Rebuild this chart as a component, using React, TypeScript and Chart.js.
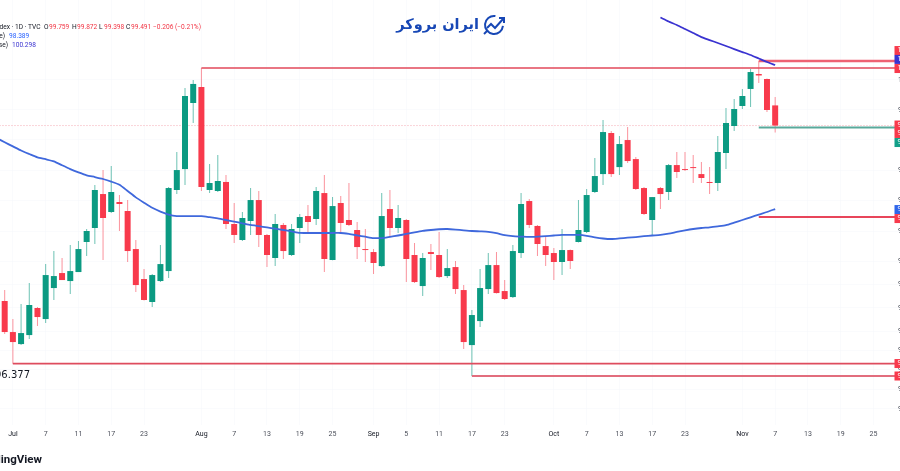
import { useEffect, useRef } from "react"
import { Chart, registerables } from "chart.js"

// Register Chart.js components
Chart.register(...registerables)

const opens = [
  97.189, 96.787, 96.632, 96.748, 97.098, 96.955, 97.357, 97.552, 97.448, 97.565,
  97.957, 98.14, 98.586, 98.35, 98.481, 98.363, 97.865, 97.474, 97.176, 97.448,
  97.578, 98.639, 98.915, 99.791, 100.004, 98.639, 98.626, 98.745, 98.193, 97.983,
  98.232, 98.507, 98.049, 97.748, 98.18, 97.787, 98.14, 98.297, 98.258, 98.599,
  97.722, 98.468, 98.245, 98.114, 97.865, 97.826, 97.643, 98.389, 98.14, 98.245,
  97.787, 97.383, 97.826, 97.787, 97.513, 97.63, 97.331, 96.619, 96.929, 97.344,
  97.656, 97.318, 97.24, 97.813, 98.494, 98.167, 97.904, 97.813, 97.696, 97.852,
  97.957, 98.088, 98.613, 98.849, 99.392, 98.941, 99.299, 99.047, 98.665, 98.245,
  98.665, 98.613, 98.968, 98.915, 98.941, 98.849, 98.745, 98.731, 99.127, 99.485,
  99.751, 99.978, 100.178, 100.111, 99.759,
]
const highs = [
  97.331, 96.955, 97.15, 97.422, 97.111, 97.669, 97.839, 97.748, 97.917, 97.97,
  98.127, 98.705, 98.902, 98.955, 98.573, 98.507, 97.983, 97.604, 97.539, 97.917,
  98.679, 99.141, 99.991, 100.098, 100.258, 98.981, 99.1, 98.836, 98.468, 98.35,
  98.665, 98.626, 98.062, 98.324, 98.206, 98.193, 98.324, 98.441, 98.679, 98.836,
  98.546, 98.56, 98.731, 98.219, 98.127, 97.865, 98.599, 98.639, 98.441, 98.258,
  97.944, 97.813, 97.931, 98.088, 97.865, 97.709, 97.396, 97.072, 97.604, 97.813,
  97.826, 97.461, 97.917, 98.599, 98.52, 98.18, 98.022, 97.878, 98.127, 97.86,
  98.507, 98.652, 99.06, 99.565, 99.419, 99.352, 99.472, 99.074, 98.679, 98.546,
  98.679, 98.981, 99.141, 99.141, 99.1, 99.008, 98.941, 99.352, 99.725, 99.844,
  99.978, 100.244, 100.352, 100.118, 99.872,
]
const lows = [
  96.761, 96.377, 96.619, 96.697, 96.865, 96.903, 97.202, 97.461, 97.279, 97.565,
  97.774, 97.931, 97.722, 98.337, 98.101, 97.696, 97.305, 97.195, 97.111, 97.435,
  97.487, 98.586, 98.705, 99.525, 98.626, 98.599, 98.613, 98.127, 97.944, 97.97,
  98.049, 97.891, 97.63, 97.643, 97.735, 97.774, 97.944, 98.088, 98.18, 97.565,
  97.72, 98.088, 98.167, 97.735, 97.696, 97.539, 97.63, 98.022, 98.075, 97.435,
  97.422, 97.253, 97.591, 97.487, 97.487, 97.279, 96.568, 96.221, 96.852, 97.279,
  97.285, 97.202, 97.228, 97.748, 98.14, 97.774, 97.643, 97.461, 97.526, 97.604,
  97.95, 98.075, 98.6, 98.705, 98.81, 98.836, 98.994, 98.639, 98.311, 98.036,
  98.389, 98.507, 98.797, 98.889, 98.731, 98.731, 98.586, 98.626, 98.915, 99.419,
  99.711, 99.738, 100.058, 99.671, 99.398,
]
const closes = [
  96.787, 96.658, 96.774, 97.137, 96.981, 97.526, 97.513, 97.461, 97.578, 97.865,
  98.101, 98.639, 98.271, 98.613, 98.455, 97.839, 97.396, 97.202, 97.526, 97.669,
  98.665, 98.902, 99.884, 100.045, 98.679, 98.731, 98.758, 98.193, 98.049, 98.271,
  98.507, 98.049, 97.787, 98.193, 97.839, 98.127, 98.284, 98.219, 98.626, 97.735,
  98.428, 98.206, 98.18, 97.891, 97.852, 97.683, 98.297, 98.14, 98.271, 97.735,
  97.435, 97.748, 97.8, 97.5, 97.617, 97.344, 96.658, 97.007, 97.357, 97.656,
  97.292, 97.215, 97.839, 98.455, 98.18, 97.931, 97.787, 97.696, 97.852, 97.709,
  98.114, 98.573, 98.823, 99.405, 98.849, 99.246, 99.021, 98.652, 98.324, 98.546,
  98.586, 98.968, 98.876, 98.902, 98.928, 98.797, 98.731, 99.141, 99.525, 99.711,
  99.884, 100.204, 100.158, 99.698, 99.491,
]

// EMA close values, the first one sits one bar left of the picture
const emaBlue = [
  99.326, 99.269, 99.215, 99.16, 99.114, 99.07, 99.045, 99.017, 98.965, 98.915,
  98.872, 98.833, 98.81, 98.784, 98.75, 98.708, 98.626, 98.542, 98.472, 98.405,
  98.355, 98.316, 98.297, 98.297, 98.297, 98.296, 98.282, 98.266, 98.245, 98.223,
  98.202, 98.18, 98.164, 98.148, 98.131, 98.114, 98.096, 98.077, 98.075, 98.075,
  98.075, 98.075, 98.075, 98.062, 98.044, 98.026, 98.009, 98.009, 98.025, 98.042,
  98.062, 98.083, 98.102, 98.114, 98.124, 98.127, 98.12, 98.11, 98.101, 98.096,
  98.09, 98.072, 98.046, 98.033, 98.028, 98.024, 98.028, 98.034, 98.042, 98.049,
  98.049, 98.049, 98.038, 98.018, 98.003, 97.996, 98.004, 98.013, 98.022, 98.033,
  98.042, 98.049, 98.066, 98.088, 98.109, 98.127, 98.14, 98.149, 98.162, 98.177,
  98.21, 98.245, 98.28, 98.316, 98.35, 98.389,
]
const emaIndigoStart = 80
const emaIndigo = [
  100.936, 100.882, 100.835, 100.781, 100.727, 100.673, 100.633, 100.593, 100.553,
  100.512, 100.472, 100.432, 100.385, 100.338, 100.298,
]

// Horizontal levels: first bar of each line and its price
const levelStarts = [24, 92, 92, 92, 1, 57]
const levelPrices = [100.258, 100.352, 99.465, 98.284, 96.38, 96.221]
const lastPrice = 99.491

const tickIndexes = [1, 5, 9, 13, 17, 24, 28, 32, 36, 40, 45, 49, 53, 57, 61, 67, 71, 75, 79, 83, 90, 94, 98, 102, 106]
const tickLabels = ["Jul", "7", "11", "17", "23", "Aug", "7", "13", "19", "25", "Sep", "5", "11", "17", "23", "Oct", "7", "13", "17", "23", "Nov", "7", "13", "19", "25"]
const months = ["Jul", "Aug", "Sep", "Oct", "Nov"]

const priceTicks = [100.1, 99.7, 99.3, 98.9, 98.5, 98.1, 97.7, 97.4, 97.1, 96.8, 96.55, 96.3, 96.05, 95.8]
const tagPrices = [100.492, 100.373, 100.251, 99.498, 99.386, 99.266, 98.382, 98.264, 96.381, 96.221]
const tagLabels = ["100.49", "100.29", "100.25", "99.49", "99.38", "99.26", "98.38", "98.26", "96.37", "96.22"]

const GREEN = "#0b9a82"
const RED = "#f83a4c"
const GREEN_WICK = "rgba(11, 154, 130, 0.6)"
const RED_WICK = "rgba(248, 58, 76, 0.55)"
const BLUE = "#3f68dc"
const INDIGO = "#3a33d0"
const tagColors = [RED, INDIGO, RED, RED, RED, "#12a089", "#2f66ea", RED, RED, RED]
const levelColors = ["#e2485a", "#ee6273", "#5aa99b", "#e8455a", "#de4c5e", "#e26d7d"]
const levelWidths = [1.6, 2.4, 2.2, 2, 1.6, 2]

// Everything on the canvas that is not a series: header text, logo, price labels, tags
const overlayPlugin = {
  id: "overlay",
  afterDatasetsDraw(chart: any) {
    const { ctx } = chart
    const y = chart.scales.y
    ctx.save()
    ctx.textBaseline = "middle"

    // Header
    ctx.font = "6.6px Roboto"
    ctx.textAlign = "right"
    ctx.fillStyle = "#131722"
    ctx.fillText("U.S. Dollar Index · 1D · TVC", 40.5, 27.5)
    ctx.textAlign = "left"
    const ohlc: [string, string, number][] = [
      ["O", "99.759", 44],
      ["H", "99.872", 72],
      ["L", "99.398", 99],
      ["C", "99.491", 126],
    ]
    ohlc.forEach(([k, v, x]) => {
      ctx.fillStyle = "#131722"
      ctx.fillText(k, x, 27.5)
      ctx.fillStyle = "#f23645"
      ctx.fillText(v, x + 5, 27.5)
    })
    ctx.fillText("−0.206 (−0.21%)", 153, 27.5)
    ctx.textAlign = "right"
    ctx.fillStyle = "#131722"
    ctx.fillText("EMA 50 close)", 5, 36.5)
    ctx.fillText("EMA 200 close)", 8, 45.5)
    ctx.textAlign = "left"
    ctx.fillStyle = "#2962ff"
    ctx.fillText("98.389", 9, 36.5)
    ctx.fillStyle = INDIGO
    ctx.fillText("100.298", 12, 45.5)

    // Swing low label and watermark
    ctx.textAlign = "right"
    ctx.fillStyle = "#131722"
    ctx.font = "10px 'DejaVu Sans'"
    ctx.fillText("96.377", 30, 375)
    ctx.font = "bold 11.5px Roboto"
    ctx.fillText("TradingView", 42, 460)

    // Logo
    ctx.fillStyle = "#1747b5"
    ctx.font = "bold 14.5px 'DejaVu Sans'"
    ctx.direction = "rtl"
    ctx.textAlign = "right"
    ctx.fillText("ایران بروکر", 479, 25)
    ctx.direction = "ltr"
    ctx.strokeStyle = "#1747b5"
    ctx.lineWidth = 2
    ctx.beginPath()
    ctx.arc(494, 25, 9, 0.1, Math.PI * 1.55)
    ctx.stroke()
    ctx.beginPath()
    ctx.moveTo(484, 34)
    ctx.lineTo(488, 30)
    ctx.stroke()
    ctx.beginPath()
    ctx.moveTo(487, 28)
    ctx.lineTo(491, 24)
    ctx.lineTo(495, 28)
    ctx.lineTo(503, 19)
    ctx.stroke()
    ctx.beginPath()
    ctx.moveTo(499, 18)
    ctx.lineTo(504, 18)
    ctx.lineTo(504, 23)
    ctx.stroke()

    // Price axis, only its first glyphs fit in the picture
    ctx.textAlign = "left"
    ctx.font = "7px Roboto"
    ctx.fillStyle = "#4a4e59"
    priceTicks.forEach((p) => {
      ctx.fillText(p.toFixed(3), 898, y.getPixelForValue(p))
    })
    tagPrices.forEach((p, i) => {
      const py = y.getPixelForValue(p)
      ctx.fillStyle = tagColors[i]
      ctx.fillRect(894.5, py - 4.5, 6, 9)
      ctx.fillStyle = "#fff"
      ctx.fillText(tagLabels[i], 897.5, py)
    })
    ctx.restore()
  },
}

export default function App() {
  const canvasRef = useRef<HTMLCanvasElement>(null)
  const chartRef = useRef<Chart | null>(null)

  useEffect(() => {
    if (!canvasRef.current) return

    // Destroy existing chart
    if (chartRef.current) {
      chartRef.current.destroy()
    }

    const ctx = canvasRef.current.getContext("2d")
    if (!ctx) return

    const isUp = (i: number) => closes[i] >= opens[i]

    const levels = levelPrices.map((p, i) => ({
      type: "line" as const,
      data: [
        { x: levelStarts[i], y: p },
        { x: 109, y: p },
      ],
      borderColor: levelColors[i],
      borderWidth: levelWidths[i],
      pointRadius: 0,
      order: 1,
    }))

    chartRef.current = new Chart(ctx, {
      type: "bar",
      data: {
        datasets: [
          {
            type: "line",
            data: emaBlue.map((v, i) => ({ x: i - 1, y: v })),
            borderColor: BLUE,
            borderWidth: 1.8,
            pointRadius: 0,
            tension: 0.2,
            order: 0,
          },
          {
            type: "line",
            data: emaIndigo.map((v, i) => ({ x: emaIndigoStart + i, y: v })),
            borderColor: INDIGO,
            borderWidth: 1.8,
            pointRadius: 0,
            tension: 0.2,
            order: 0,
          },
          ...levels,
          {
            type: "line",
            data: [
              { x: -1, y: lastPrice },
              { x: 109, y: lastPrice },
            ],
            borderColor: "#f5aab3",
            borderWidth: 1,
            borderDash: [1, 2],
            pointRadius: 0,
            order: 4,
          },
          {
            type: "bar",
            data: opens.map((o, i) => ({ x: i, y: [o, closes[i]] })),
            backgroundColor: opens.map((_, i) => (isUp(i) ? GREEN : RED)),
            barThickness: 6,
            grouped: false,
            inflateAmount: 0,
            order: 2,
          },
          {
            type: "bar",
            data: lows.map((l, i) => ({ x: i, y: [l, highs[i]] })),
            backgroundColor: opens.map((_, i) => (isUp(i) ? GREEN_WICK : RED_WICK)),
            barThickness: 1,
            grouped: false,
            inflateAmount: 0,
            order: 3,
          },
        ] as any,
      },
      options: {
        responsive: false,
        animation: false,
        layout: { padding: { bottom: 30 } },
        plugins: {
          legend: { display: false },
          tooltip: { enabled: false },
        },
        scales: {
          x: {
            type: "linear",
            offset: false,
            min: -0.5716,
            max: 109.23,
            border: { display: false },
            grid: { offset: false, color: "rgba(240, 243, 250, 0.3)", drawTicks: false },
            afterBuildTicks: (scale: any) => {
              scale.ticks = tickIndexes.map((value) => ({ value }))
            },
            afterFit: (scale: any) => {
              scale.height = 16
            },
            ticks: {
              autoSkip: false,
              maxRotation: 0,
              padding: 5,
              callback: (value: any) => tickLabels[tickIndexes.indexOf(value)],
              font: { family: "Roboto", size: 7 },
              color: (c: any) => (months.includes(tickLabels[tickIndexes.indexOf(c.tick?.value)]) ? "#131722" : "#4a4e59"),
            },
          },
          y: {
            type: "logarithmic",
            position: "right",
            min: 95.594,
            max: 101.172,
            border: { display: false },
            grid: { color: "rgba(240, 243, 250, 0.3)", drawTicks: false },
            afterBuildTicks: (scale: any) => {
              scale.ticks = priceTicks.map((value) => ({ value }))
            },
            afterFit: (scale: any) => {
              scale.width = 0
            },
            ticks: { display: false },
          },
        },
      },
      plugins: [overlayPlugin],
    })

    return () => {
      if (chartRef.current) {
        chartRef.current.destroy()
      }
    }
  }, [])

  return (
    <div style={{ position: "absolute", left: 0, top: 0, width: 900, height: 471, overflow: "hidden", background: "#fff" }}>
      <canvas ref={canvasRef} width={900} height={471} style={{ display: "block" }}></canvas>
    </div>
  )
}
